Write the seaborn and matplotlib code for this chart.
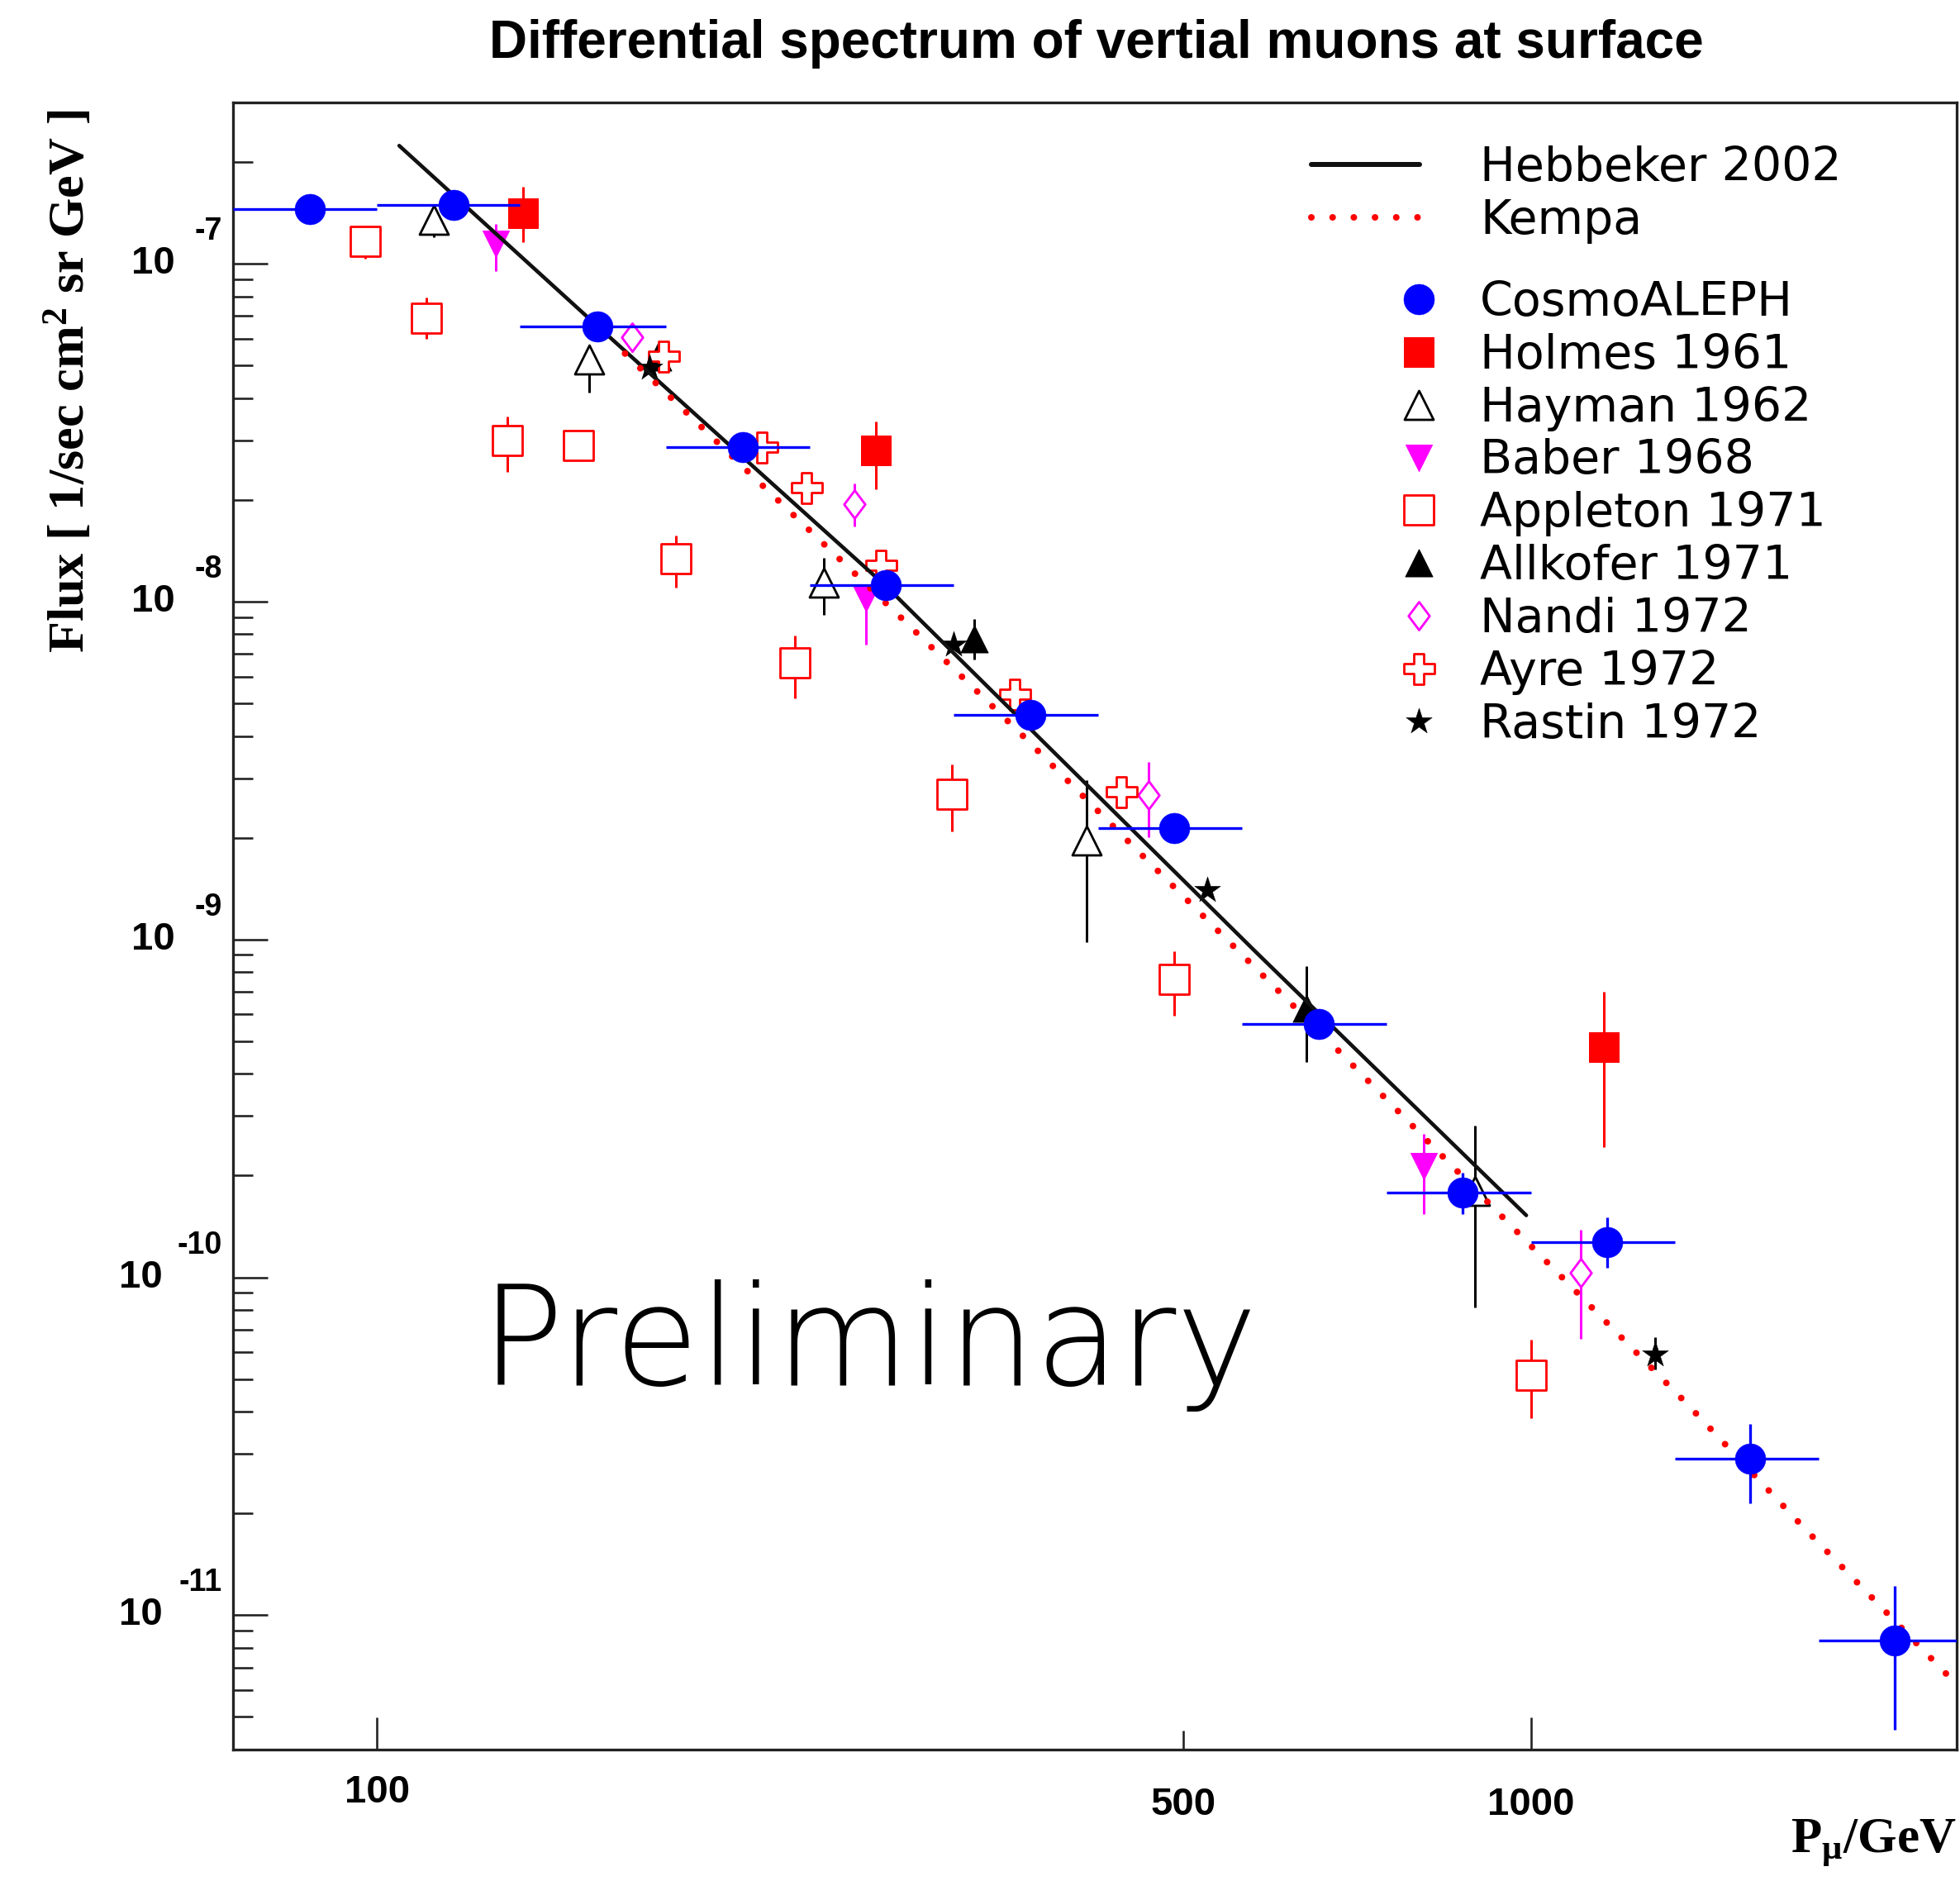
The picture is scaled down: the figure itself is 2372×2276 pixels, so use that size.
import numpy as np
import matplotlib
matplotlib.use("Agg")
import matplotlib.pyplot as plt
import matplotlib.ticker as mticker
import matplotlib.transforms as mtransforms
from matplotlib.path import Path
from matplotlib.legend_handler import HandlerLine2D
import seaborn as sns

# ---------------- data ----------------
# CosmoALEPH
aleph_p = [87.4, 116.5, 155.3, 207.6, 275.8, 368.5, 491, 655, 873, 1164, 1549, 2068]
aleph_flux = [1.451e-7, 1.492e-7, 6.525e-8, 2.872e-8, 1.117e-8, 4.62e-9, 2.13e-9,
              5.61e-10, 1.783e-10, 1.274e-10, 2.90e-11, 8.39e-12]
aleph_p_lo = [75, 100, 133, 178, 237, 316, 422, 562, 750, 1000, 1334, 1778]
aleph_p_hi = [100, 133, 178, 237, 316, 422, 562, 750, 1000, 1334, 1778, 2370]
aleph_flux_lo = [1.37e-7, 1.41e-7, 6.15e-8, 2.71e-8, 1.05e-8, 4.35e-9, 2.0e-9,
                 5.25e-10, 1.54e-10, 1.067e-10, 2.146e-11, 4.58e-12]
aleph_flux_hi = [1.53e-7, 1.58e-7, 6.9e-8, 3.04e-8, 1.18e-8, 4.9e-9, 2.26e-9,
                 5.95e-10, 2.04e-10, 1.502e-10, 3.67e-11, 1.222e-11]

# Holmes 1961
holmes_p = [133.9, 270.7, 1158]
holmes_flux = [1.41e-7, 2.798e-8, 4.80e-10]
holmes_lo = [1.158e-7, 2.15e-8, 2.43e-10]
holmes_hi = [1.685e-7, 3.42e-8, 7.0e-10]

# Hayman 1962
hayman_p = [111.9, 152.8, 243.8, 411.9, 894]
hayman_flux = [1.345e-7, 5.21e-8, 1.138e-8, 1.963e-9, 1.804e-10]
hayman_lo = [1.20e-7, 4.155e-8, 9.13e-9, 9.84e-10, 8.12e-11]
hayman_hi = [1.40e-7, 5.5e-8, 1.349e-8, 2.956e-9, 2.813e-10]

# Baber 1968
baber_p = [126.7, 265.5, 808]
baber_flux = [1.147e-7, 1.022e-8, 2.13e-10]
baber_lo = [9.5e-8, 7.46e-9, 1.536e-10]
baber_hi = [1.308e-7, 1.117e-8, 2.65e-10]

# Appleton 1971
appleton_p = [97.6, 110.3, 129.7, 149.5, 181.4, 230.2, 315, 491, 1000]
appleton_flux = [1.164e-7, 6.9e-8, 2.99e-8, 2.90e-8, 1.336e-8, 6.58e-9, 2.69e-9, 7.6e-10, 5.14e-11]
appleton_lo = [1.035e-7, 5.99e-8, 2.42e-8, 2.78e-8, 1.1e-8, 5.18e-9, 2.09e-9, 5.93e-10, 3.835e-11]
appleton_hi = [1.2e-7, 7.95e-8, 3.53e-8, 3.0e-8, 1.571e-8, 7.95e-9, 3.29e-9, 9.25e-10, 6.52e-11]

# Allkofer 1971
allkofer_p = [175, 329.1, 639.3]
allkofer_flux = [5.3e-8, 7.74e-9, 6.26e-10]
allkofer_lo = [5.1e-8, 6.75e-9, 4.34e-10]
allkofer_hi = [5.5e-8, 8.9e-9, 8.34e-10]

# Nandi 1972
nandi_p = [166.4, 259.4, 466.6, 1104]
nandi_flux = [6.06e-8, 1.942e-8, 2.675e-9, 1.03e-10]
nandi_lo = [5.49e-8, 1.67e-8, 2.01e-9, 6.59e-11]
nandi_hi = [6.67e-8, 2.23e-8, 3.36e-9, 1.379e-10]

# Ayre 1972
ayre_p = [177.1, 215.4, 235.7, 273.2, 356.9, 441.6]
ayre_flux = [5.32e-8, 2.87e-8, 2.176e-8, 1.282e-8, 5.31e-9, 2.74e-9]

# Rastin 1972
rastin_p = [172.3, 316.1, 524, 1281]
rastin_flux = [4.92e-8, 7.46e-9, 1.398e-9, 5.9e-11]
rastin_lo = [4.8e-8, 7.3e-9, 1.36e-9, 5.35e-11]
rastin_hi = [5.05e-8, 7.6e-9, 1.44e-9, 6.65e-11]

# Hebbeker 2002 curve
heb_p = [104.5, 155.3, 276.4, 576.7, 991.1]
heb_flux = [2.235e-7, 6.525e-8, 1.107e-8, 9.23e-10, 1.525e-10]

# Kempa curve
kem_p = [164, 209.3, 282.9, 360.9, 457, 675.2, 991, 1366, 1725, 2316]
kem_flux = [5.42e-8, 2.437e-8, 9.13e-9, 4.08e-9, 1.82e-9, 4.83e-10, 1.28e-10,
            4.22e-11, 1.814e-11, 6.46e-12]

x_ticks_major = [100, 1000]
x_ticks_minor = [500]
x_tick_labels = ["100", "500", "1000"]
y_exponents = [-7, -8, -9, -10, -11]

title = "Differential spectrum of vertial muons at surface"
ylabel = r"Flux [ 1/sec cm$^{2}$ sr GeV ]"
xlabel = r"P$_{\mathrm{\mu}}$/GeV"

# ---------------- style ----------------
sns.set_theme(style="ticks")
plt.rcParams["font.family"] = ["DejaVu Sans"]
plt.rcParams["text.color"] = "black"
plt.rcParams["axes.labelcolor"] = "black"
plt.rcParams["legend.labelcolor"] = "black"
plt.rcParams["mathtext.fontset"] = "custom"
plt.rcParams["mathtext.rm"] = "Liberation Serif:bold"
plt.rcParams["mathtext.it"] = "Liberation Serif:italic:bold"
plt.rcParams["mathtext.bf"] = "Liberation Serif:bold"

W, H, DPI = 2372, 2276, 200
PT = 72.0 / DPI  # points per pixel

fig = plt.figure(figsize=(W / DPI, H / DPI), dpi=DPI, facecolor="white")
ax = fig.add_axes([282 / W, 1 - 2117 / H, (2368 - 282) / W, (2117 - 124) / H])
ax.set_facecolor("white")
ax.set_xscale("log")
ax.set_yscale("log")

BLUE = (0, 0, 1)
RED = (1, 0, 0)
MAG = (1, 0, 1)
BLK = (0, 0, 0)

def yerr(f, lo, hi):
    f = np.asarray(f)
    return [f - np.asarray(lo), np.asarray(hi) - f]

# error bars for other experiments
for p, f, lo, hi, c in [
    (holmes_p, holmes_flux, holmes_lo, holmes_hi, RED),
    (hayman_p, hayman_flux, hayman_lo, hayman_hi, BLK),
    (baber_p, baber_flux, baber_lo, baber_hi, MAG),
    (appleton_p, appleton_flux, appleton_lo, appleton_hi, RED),
    (allkofer_p, allkofer_flux, allkofer_lo, allkofer_hi, BLK),
    (nandi_p, nandi_flux, nandi_lo, nandi_hi, MAG),
    (rastin_p, rastin_flux, rastin_lo, rastin_hi, BLK),
]:
    ax.errorbar(p, f, yerr=yerr(f, lo, hi), fmt="none", ecolor=c,
                elinewidth=3 * PT, capsize=0, zorder=2)

diamond = Path([(0, 1), (0.75, 0), (0, -1), (-0.75, 0), (0, 1)],
               [Path.MOVETO, Path.LINETO, Path.LINETO, Path.LINETO, Path.CLOSEPOLY])

handles = {}
def scatter(name, p, f, marker, size_px, face, edge, lw_px, z):
    sns.scatterplot(x=p, y=f, marker=marker, s=(size_px * PT) ** 2, color=face,
                    edgecolor=edge, linewidth=lw_px * PT, zorder=z, ax=ax,
                    legend=False, label=name)
    handles[name] = ax.collections[-1]

scatter("Holmes 1961", holmes_p, holmes_flux, "s", 36, RED, RED, 1, 3)
scatter("Hayman 1962", hayman_p, hayman_flux, "^", 35, "white", BLK, 2.8, 3)
scatter("Baber 1968", baber_p, baber_flux, "v", 32, MAG, MAG, 1, 3)
scatter("Appleton 1971", appleton_p, appleton_flux, "s", 36, "white", RED, 2.8, 3)
scatter("Allkofer 1971", allkofer_p, allkofer_flux, "^", 33, BLK, BLK, 1, 3)
scatter("Nandi 1972", nandi_p, nandi_flux, diamond, 34, "white", MAG, 2.8, 3)
scatter("Ayre 1972", ayre_p, ayre_flux, "P", 37, "white", RED, 2.8, 3)
scatter("Rastin 1972", rastin_p, rastin_flux, "*", 33, BLK, BLK, 0.5, 3)

# model curves
sns.lineplot(x=heb_p, y=heb_flux, color="#111111", linewidth=4.6 * PT,
             zorder=4, ax=ax, legend=False, errorbar=None, label="Hebbeker 2002")
heb_line = ax.lines[-1]
sns.lineplot(x=kem_p, y=kem_flux, color=RED, linewidth=8 * PT,
             linestyle=(0, (0.01, 3.2)), dash_capstyle="round",
             zorder=4, ax=ax, legend=False, errorbar=None, label="Kempa")
kem_line = ax.lines[-1]

# CosmoALEPH on top
ap = np.asarray(aleph_p)
ax.errorbar(aleph_p, aleph_flux,
            xerr=[ap - np.asarray(aleph_p_lo), np.asarray(aleph_p_hi) - ap],
            yerr=yerr(aleph_flux, aleph_flux_lo, aleph_flux_hi),
            fmt="none", ecolor=BLUE, elinewidth=3.3 * PT, capsize=0, zorder=5)
scatter("CosmoALEPH", aleph_p, aleph_flux, "o", 37, BLUE, BLUE, 0.5, 6)

ax.set_xlim(75, 2340)
ax.set_ylim(4e-12, 3e-7)
ax.set_xlabel("")
ax.set_ylabel("")

# ticks
ax.xaxis.set_major_locator(mticker.FixedLocator(x_ticks_major))
ax.xaxis.set_minor_locator(mticker.FixedLocator(x_ticks_minor))
ax.yaxis.set_major_locator(mticker.LogLocator(base=10, numticks=20))
ax.yaxis.set_minor_locator(mticker.LogLocator(base=10, subs=np.arange(2, 10), numticks=20))
ax.xaxis.set_major_formatter(mticker.NullFormatter())
ax.xaxis.set_minor_formatter(mticker.NullFormatter())
ax.yaxis.set_major_formatter(mticker.NullFormatter())
ax.yaxis.set_minor_formatter(mticker.NullFormatter())
ax.tick_params(which="both", direction="in", top=False, right=False,
               width=2.6 * PT, color="#222222")
ax.xaxis.set_tick_params(which="major", length=39 * PT)
ax.xaxis.set_tick_params(which="minor", length=23 * PT)
ax.yaxis.set_tick_params(which="major", length=42 * PT)
ax.yaxis.set_tick_params(which="minor", length=24 * PT)
for s in ax.spines.values():
    s.set_linewidth(3.3 * PT)
    s.set_color("#222222")
    s.set_visible(True)

tick_font = dict(family="Liberation Sans", weight="bold", color="black")
ytr = ax.get_yaxis_transform()
ytr_up = mtransforms.offset_copy(ytr, fig=fig, x=0, y=39 * PT, units="points")
for e in y_exponents:
    xr = -0.0336 if e > -10 else -0.0408
    ax.text(xr, 10.0 ** e, "10", transform=ytr, ha="right", va="center",
            fontsize=17, clip_on=False, **tick_font)
    ax.text(-0.0062, 10.0 ** e, f"-{abs(e)}", transform=ytr_up, ha="right",
            va="center", fontsize=13.5, clip_on=False, **tick_font)

xtr = ax.get_xaxis_transform()
for v, lab, yy in zip(x_ticks_major[:1] + x_ticks_minor + x_ticks_major[1:],
                      x_tick_labels, [-0.0261, -0.0336, -0.0336]):
    ax.text(v, yy, lab, transform=xtr, ha="center", va="center", fontsize=17,
            clip_on=False, **tick_font)

# titles / labels
fig.text(0.5594, 0.9767, title, ha="center", va="center", fontsize=23,
         family="Liberation Sans", weight="bold", color="black")
fig.text(84 / W, 1 - 461 / H, ylabel, rotation=90, ha="center", va="center",
         fontsize=22.4, family="Liberation Serif", weight="bold", color="black")
fig.text(2368 / W, 1 - 2230 / H, xlabel, ha="right", va="center",
         fontsize=22, family="Liberation Serif", weight="bold", color="black")
fig.text(582 / W, 1 - 1676 / H, "Preliminary", ha="left", va="baseline",
         fontsize=60, family="DejaVu Sans", weight=200, color="black")

# legends
LFS = 20.5
lfs_px = LFS / PT

def thick_handle(legend_handle, orig_handle):
    legend_handle.update_from(orig_handle)
    legend_handle.set_linewidth(6 * PT)

leg1 = ax.legend(handles=[heb_line, kem_line], labels=["Hebbeker 2002", "Kempa"],
                 loc="upper left", bbox_to_anchor=(1587 / W, 1 - 176 / H),
                 bbox_transform=fig.transFigure, frameon=False, borderpad=0,
                 borderaxespad=0, handlelength=131 / lfs_px,
                 handletextpad=73 / lfs_px, labelspacing=0.15,
                 handler_map={heb_line: HandlerLine2D(update_func=thick_handle)},
                 labelcolor="black",
                 prop={"family": "DejaVu Sans", "size": LFS})
ax.add_artist(leg1)

order = ["CosmoALEPH", "Holmes 1961", "Hayman 1962", "Baber 1968", "Appleton 1971",
         "Allkofer 1971", "Nandi 1972", "Ayre 1972", "Rastin 1972"]
hl = 0.8
ax.legend(handles=[handles[k] for k in order], labels=order,
          loc="upper left",
          bbox_to_anchor=((1717 - hl * lfs_px / 2) / W, 1 - 339 / H),
          bbox_transform=fig.transFigure, frameon=False, borderpad=0,
          borderaxespad=0, handlelength=hl,
          handletextpad=(1791 - 1717 - hl * lfs_px / 2) / lfs_px,
          labelspacing=0.155, scatterpoints=1, scatteryoffsets=[0.5],
          labelcolor="black",
          prop={"family": "DejaVu Sans", "size": LFS})

fig.savefig("out.png", dpi=DPI, facecolor="white")
